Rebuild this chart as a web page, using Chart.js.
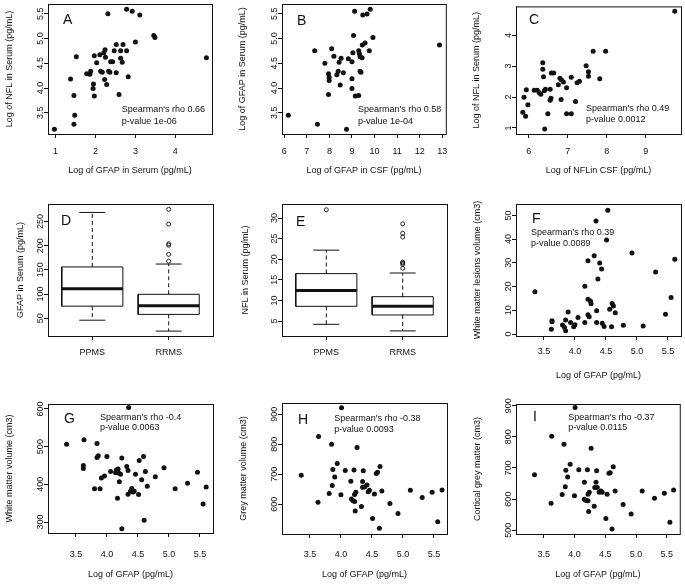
<!DOCTYPE html>
<html>
<head>
<meta charset="utf-8">
<script src="https://cdn.jsdelivr.net/npm/chart.js@4.4.1/dist/chart.umd.min.js"></script>
<style>
  html, body { margin: 0; background: #fff; }
  #fig { position: relative; width: 685px; height: 585px; overflow: hidden; }
  #fig canvas { position: absolute; }
</style>
</head>
<body>
<div id="fig">
  <canvas id="pA"></canvas><canvas id="pB"></canvas><canvas id="pC"></canvas>
  <canvas id="pD"></canvas><canvas id="pE"></canvas><canvas id="pF"></canvas>
  <canvas id="pG"></canvas><canvas id="pH"></canvas><canvas id="pI"></canvas>
</div>
<script>
// ---- data ----
const aX = [0.97, 1.375, 1.46, 1.48, 1.46, 1.52, 1.78, 1.86, 1.88, 1.94, 1.95, 1.97, 1.97, 2.03, 2.11, 2.13, 2.17, 2.21, 2.24, 2.25, 2.23, 2.28, 2.31, 2.33, 2.36, 2.38, 2.43, 2.47, 2.52, 2.52, 2.59, 2.63, 2.63, 2.67, 2.69, 2.78, 2.82, 2.78, 2.92, 3.11, 3.0, 3.46, 3.49, 4.78];
const aY = [3.17, 4.18, 3.85, 3.45, 3.27, 4.63, 4.29, 4.28, 4.34, 3.99, 4.08, 3.84, 4.65, 4.51, 4.67, 4.34, 4.32, 4.71, 4.77, 4.62, 4.17, 4.07, 5.5, 4.34, 4.32, 4.53, 4.53, 4.75, 4.88, 4.31, 3.87, 4.75, 4.6, 4.52, 4.88, 4.75, 4.23, 5.59, 5.55, 5.47, 4.93, 5.06, 5.02, 4.61];

const bX = [6.18, 7.47, 7.35, 7.8, 8.1, 7.96, 7.99, 7.99, 7.96, 8.2, 8.33, 8.39, 8.43, 8.48, 8.52, 8.62, 8.76, 8.84, 9.0, 9.0, 9.0, 9.04, 9.07, 9.12, 9.15, 9.3, 9.3, 9.33, 9.36, 9.36, 9.4, 9.45, 9.46, 9.48, 9.58, 9.67, 9.77, 9.81, 9.93, 12.88];
const bY = [3.45, 3.27, 4.75, 4.5, 4.79, 4.29, 4.22, 4.15, 3.87, 4.64, 4.27, 4.34, 4.52, 4.06, 4.6, 4.31, 3.17, 4.59, 4.53, 4.19, 3.99, 4.71, 5.06, 5.55, 3.84, 3.85, 4.75, 4.69, 4.63, 4.34, 4.32, 4.61, 4.87, 5.47, 4.91, 5.49, 4.75, 5.59, 5.02, 4.87];

const cX = [5.85, 5.88, 5.92, 5.94, 5.98, 6.14, 6.22, 6.27, 6.31, 6.36, 6.36, 6.38, 6.4, 6.41, 6.43, 6.49, 6.55, 6.55, 6.57, 6.58, 6.64, 6.76, 6.8, 6.83, 6.84, 6.89, 6.97, 6.97, 7.09, 7.09, 7.2, 7.24, 7.3, 7.47, 7.53, 7.53, 7.65, 7.82, 7.97, 9.74];
const cY = [1.51, 1.99, 1.38, 2.24, 1.75, 2.22, 2.22, 2.14, 2.09, 3.11, 2.9, 2.66, 2.2, 0.97, 2.25, 1.46, 1.9, 2.25, 1.96, 2.78, 2.78, 2.4, 2.61, 1.92, 2.55, 2.49, 2.3, 1.46, 1.46, 2.64, 1.86, 2.46, 2.51, 3.01, 2.82, 2.67, 3.48, 2.59, 3.48, 4.77];

const groups = ['PPMS', 'RRMS'];
// panel D: GFAP in serum
const dLow = [46, 23.5];
const dQ1 = [75, 58];
const dMed = [111, 76];
const dQ3 = [156, 99.5];
const dHigh = [268.6, 162];
const dOut = [[], [275, 244.5, 204, 201, 182, 168]];
// panel E: NFL in serum
const eLow = [4.2, 2.6];
const eQ1 = [8.56, 6.46];
const eMed = [12.4, 8.56];
const eQ3 = [16.5, 10.9];
const eHigh = [22.2, 16.65];
const eOut = [[32], [28.6, 26.3, 25.4, 19.3, 19.05, 18.8, 17.8]];

const fX = [3.355, 3.62, 3.63, 3.63, 3.8, 3.83, 3.85, 3.85, 3.89, 3.93, 3.98, 4.0, 4.05, 4.16, 4.16, 4.21, 4.21, 4.21, 4.23, 4.25, 4.26, 4.31, 4.34, 4.35, 4.35, 4.37, 4.4, 4.43, 4.44, 4.47, 4.51, 4.53, 4.56, 4.59, 4.6, 4.62, 4.65, 4.78, 4.92, 5.1, 5.3, 5.46, 5.55, 5.61];
const fY = [17.8, 2.0, 5.6, 5.2, 3.8, 2.8, 5.9, 1.4, 9.3, 4.8, 3.1, 3.9, 7.0, 4.9, 20.1, 30.9, 14.6, 8.1, 7.3, 13.9, 12.8, 33.0, 47.6, 4.9, 9.8, 23.2, 29.9, 27.4, 4.5, 3.2, 39.6, 52.2, 10.4, 3.1, 12.9, 11.8, 9.0, 3.65, 34.1, 3.4, 26.1, 8.3, 15.4, 31.5];

const gX = [3.35, 3.63, 3.62, 3.62, 3.8, 3.84, 3.84, 3.86, 3.91, 3.89, 3.96, 4.0, 4.06, 4.14, 4.17, 4.15, 4.18, 4.19, 4.2, 4.22, 4.24, 4.24, 4.32, 4.34, 4.34, 4.35, 4.38, 4.4, 4.42, 4.44, 4.46, 4.51, 4.52, 4.56, 4.59, 4.6, 4.62, 4.65, 4.78, 4.92, 5.1, 5.3, 5.46, 5.55, 5.6];
const gY = [506, 518, 450, 442, 388, 508, 471, 476, 417, 388, 422, 474, 434, 431, 363, 438, 441, 430, 407, 427, 470, 282, 447, 437, 374, 604, 382, 389, 380, 382, 427, 373, 463, 412, 474, 305, 434, 395, 420, 444, 388, 403, 432, 348, 393];

const hX = [3.36, 3.63, 3.64, 3.85, 3.81, 3.86, 3.87, 3.9, 3.94, 4.0, 4.01, 4.07, 4.16, 4.17, 4.19, 4.21, 4.22, 4.22, 4.23, 4.24, 4.26, 4.33, 4.35, 4.36, 4.35, 4.38, 4.42, 4.44, 4.46, 4.51, 4.54, 4.57, 4.59, 4.62, 4.63, 4.66, 4.79, 4.92, 5.12, 5.31, 5.47, 5.56, 5.63];
const hY = [697, 607, 826, 800, 636, 663, 716, 691, 736, 632, 922, 713, 677, 618, 613, 714, 633, 609, 578, 640, 789, 593, 676, 712, 657, 658, 664, 642, 647, 553, 634, 703, 707, 520, 726, 644, 603, 569, 647, 623, 640, 542, 648];

const iX = [3.35, 3.62, 3.63, 3.83, 3.8, 3.85, 3.86, 3.89, 3.93, 4.0, 4.01, 4.07, 4.16, 4.16, 4.18, 4.21, 4.22, 4.22, 4.23, 4.24, 4.27, 4.32, 4.35, 4.36, 4.33, 4.37, 4.4, 4.43, 4.45, 4.51, 4.53, 4.56, 4.58, 4.61, 4.63, 4.66, 4.79, 4.92, 5.1, 5.3, 5.46, 5.55, 5.61];
const iY = [678, 587, 802, 776, 615, 640, 693, 671, 712, 611, 894, 694, 654, 600, 596, 694, 616, 595, 560, 622, 763, 577, 654, 691, 637, 637, 622, 626, 622, 538, 616, 683, 685, 504, 704, 626, 583, 552, 626, 603, 619, 526, 629];

// tick values
const ticksA_x = [1, 2, 3, 4];
const ticksAB_y = [3.5, 4.0, 4.5, 5.0, 5.5];
const ticksB_x = [6, 7, 8, 9, 10, 11, 12, 13];
const ticksC_x = [6, 7, 8, 9];
const ticksC_y = [1, 2, 3, 4];
const ticksD_y = [50, 100, 150, 200, 250];
const ticksE_y = [5, 10, 15, 20, 25, 30];
const ticksGfap_x = [3.5, 4.0, 4.5, 5.0, 5.5];
const ticksF_y = [0, 10, 20, 30, 40, 50];
const ticksG_y = [300, 400, 500, 600];
const ticksH_y = [600, 700, 800, 900];
const ticksI_y = [500, 600, 700, 800, 900];

// ---- look ----
const Chart = window.Chart;
const FONT = "'Liberation Sans', Arial, Helvetica, sans-serif";
const FS = 9;
const LH = FS * 1.2;
const INK = '#111';
const TICK = 4;
const BOX_HALF = 0.4;
const CAP_HALF = 0.17;

Chart.defaults.font.family = FONT;
Chart.defaults.font.size = FS;
Chart.defaults.color = INK;
Chart.defaults.animation = false;
Chart.defaults.responsive = false;
Chart.defaults.events = [];
Chart.defaults.plugins.legend.display = false;
Chart.defaults.plugins.tooltip.enabled = false;

// page-pixel layout of each panel: canvas rect, plot box, text anchors
const P = {
  A: { x: 0, y: 0, w: 228, h: 185, box: [48, 3, 212, 134], yTitle: 10, xTick: 152, xTitle: 171 },
  B: { x: 228, y: 0, w: 228, h: 185, box: [282, 3, 447, 134], yTitle: 243, xTick: 152, xTitle: 171 },
  C: { x: 456, y: 0, w: 229, h: 185, box: [516, 3, 681, 134], yTitle: 477, xTick: 152, xTitle: 171 },
  D: { x: 0, y: 188, w: 228, h: 197, box: [48, 204, 213, 336], yTitle: 21, xTick: 353 },
  E: { x: 228, y: 188, w: 228, h: 197, box: [282, 204, 447, 336], yTitle: 246, xTick: 353 },
  F: { x: 456, y: 188, w: 229, h: 197, box: [516, 204, 681, 336], yTitle: 478, xTick: 352, xTitle: 376 },
  G: { x: 0, y: 385, w: 228, h: 200, box: [48, 404, 213, 533], yTitle: 10, xTick: 555, xTitle: 575 },
  H: { x: 228, y: 385, w: 228, h: 200, box: [282, 403, 447, 534], yTitle: 244, xTick: 555, xTitle: 575 },
  I: { x: 456, y: 385, w: 229, h: 200, box: [516, 404, 681, 534], yTitle: 478, xTick: 555, xTitle: 575 },
};

const measureCtx = document.createElement('canvas').getContext('2d');
function textW(s) {
  measureCtx.font = `${FS}px ${FONT}`;
  return measureCtx.measureText(s).width;
}
const fix1 = (v) => Number(v).toFixed(1);
const plain = (v) => String(v);

function axisX(p, min, max, ticks, fmt, title) {
  return {
    type: 'linear', position: 'bottom', min, max,
    afterBuildTicks: (s) => { s.ticks = ticks.map((v) => ({ value: v })); },
    afterFit: (s) => { s.height = p.y + p.h - p.box[3]; },
    grid: { drawOnChartArea: false, tickLength: TICK, tickColor: INK, tickWidth: 1 },
    border: { color: INK, width: 1 },
    ticks: { callback: (v) => fmt(v), maxRotation: 0, autoSkip: false, padding: p.xTick - p.box[3] - TICK - LH / 2 },
    title: title
      ? { display: true, text: title, color: INK, padding: { top: 0, bottom: p.y + p.h - p.xTitle - LH / 2 } }
      : { display: false },
  };
}

function axisY(p, min, max, ticks, fmt, title) {
  const half = Math.max(...ticks.map((v) => textW(fmt(v)))) / 2;
  return {
    type: 'linear', position: 'left', min, max,
    afterBuildTicks: (s) => { s.ticks = ticks.map((v) => ({ value: v })); },
    afterFit: (s) => { s.width = p.box[0] - p.x; },
    grid: { drawOnChartArea: false, tickLength: TICK, tickColor: INK, tickWidth: 1 },
    border: { color: INK, width: 1 },
    ticks: {
      callback: (v) => fmt(v), minRotation: 90, maxRotation: 90, autoSkip: false,
      crossAlign: 'center', padding: 7.5 - TICK - half,
    },
    title: { display: true, text: title, color: INK, padding: { top: p.yTitle - p.x - LH / 2, bottom: 0 } },
  };
}

// box around the plotting region, like R's box()
const frame = {
  id: 'frame',
  afterDraw(chart) {
    const { ctx, chartArea: a } = chart;
    ctx.save();
    ctx.strokeStyle = INK;
    ctx.lineWidth = 1;
    ctx.strokeRect(a.left + 0.5, a.top + 0.5, a.right - a.left, a.bottom - a.top);
    ctx.restore();
  },
};

// panel letter and Spearman notes, in page coordinates
const notes = {
  id: 'notes',
  afterDraw(chart, _args, opts) {
    const { ctx } = chart;
    ctx.save();
    ctx.fillStyle = INK;
    ctx.textAlign = 'left';
    ctx.textBaseline = 'middle';
    for (const t of opts.items || []) {
      ctx.font = `${t.size || FS}px ${FONT}`;
      ctx.fillText(t.text, t.x - opts.ox, t.y - opts.oy);
    }
    ctx.restore();
  },
};

function place(id, p) {
  const el = document.getElementById(id);
  el.width = p.w;
  el.height = p.h;
  el.style.left = p.x + 'px';
  el.style.top = p.y + 'px';
  return el;
}

function layoutFor(p) {
  return { padding: { left: 0, top: p.box[1] - p.y, right: p.x + p.w - p.box[2], bottom: 0 } };
}

function letter(ch, x, y) { return { text: ch, x, y, size: 14 }; }

function scatterPanel(key, xs, ys, sx, sy, items) {
  const p = P[key];
  const el = place('p' + key, p);
  return new Chart(el.getContext('2d'), {
    type: 'scatter',
    data: {
      datasets: [{
        data: xs.map((x, i) => ({ x, y: ys[i] })),
        pointRadius: 2.5,
        pointBackgroundColor: INK,
        pointBorderWidth: 0,
      }],
    },
    options: {
      layout: layoutFor(p),
      scales: {
        x: axisX(p, sx.min, sx.max, sx.ticks, sx.fmt, sx.title),
        y: axisY(p, sy.min, sy.max, sy.ticks, sy.fmt, sy.title),
      },
      plugins: { notes: { items, ox: p.x, oy: p.y } },
    },
    plugins: [frame, notes],
  });
}

function seg(points, width, dash) {
  return {
    type: 'scatter',
    data: points.map(([x, y]) => ({ x, y })),
    showLine: true,
    borderColor: INK,
    borderWidth: width,
    borderDash: dash || [],
    borderCapStyle: 'butt',
    pointRadius: 0,
  };
}

function boxPanel(key, low, q1, med, q3, high, outs, sy, items) {
  const p = P[key];
  const el = place('p' + key, p);
  const datasets = [];
  groups.forEach((g, i) => {
    const c = i + 1;
    const l = c - BOX_HALF, r = c + BOX_HALF;
    datasets.push(seg([[c, q3[i]], [c, high[i]]], 1, [4, 3]));
    datasets.push(seg([[c, q1[i]], [c, low[i]]], 1, [4, 3]));
    datasets.push(seg([[c - CAP_HALF, high[i]], [c + CAP_HALF, high[i]]], 1));
    datasets.push(seg([[c - CAP_HALF, low[i]], [c + CAP_HALF, low[i]]], 1));
    datasets.push(seg([[l, q1[i]], [r, q1[i]], [r, q3[i]], [l, q3[i]], [l, q1[i]]], 1));
    datasets.push(seg([[l, med[i]], [r, med[i]]], 3));
    datasets.push({
      type: 'scatter',
      data: outs[i].map((v) => ({ x: c, y: v })),
      pointRadius: 2,
      pointBorderWidth: 0.9,
      pointBorderColor: INK,
      pointBackgroundColor: 'rgba(255,255,255,0)',
    });
  });
  return new Chart(el.getContext('2d'), {
    type: 'scatter',
    data: { datasets },
    options: {
      layout: layoutFor(p),
      scales: {
        x: axisX(p, 0.42, 2.58, [1, 2], (v) => groups[Math.round(v) - 1], null),
        y: axisY(p, sy.min, sy.max, sy.ticks, sy.fmt, sy.title),
      },
      plugins: { notes: { items, ox: p.x, oy: p.y } },
    },
    plugins: [frame, notes],
  });
}

const gfapX = { min: 3.05, max: 5.71, ticks: ticksGfap_x, fmt: fix1, title: 'Log of GFAP (pg/mL)' };

scatterPanel('A', aX, aY,
  { min: 0.81, max: 4.92, ticks: ticksA_x, fmt: plain, title: 'Log of GFAP in Serum (pg/mL)' },
  { min: 3.074, max: 5.694, ticks: ticksAB_y, fmt: fix1, title: 'Log of NFL in Serum (pg/mL)' },
  [letter('A', 63, 20), { text: "Spearman's rho 0.66", x: 121.7, y: 110 }, { text: 'p-value 1e-06', x: 121.7, y: 121.7 }]);

scatterPanel('B', bX, bY,
  { min: 5.9, max: 13.16, ticks: ticksB_x, fmt: plain, title: 'Log of GFAP in CSF (pg/mL)' },
  { min: 3.074, max: 5.694, ticks: ticksAB_y, fmt: fix1, title: 'Log of GFAP in Serum (pg/mL)' },
  [letter('B', 297, 20.7), { text: "Spearman's rho 0.58", x: 358, y: 110 }, { text: 'p-value 1e-04', x: 358, y: 122 }]);

scatterPanel('C', cX, cY,
  { min: 5.675, max: 9.9, ticks: ticksC_x, fmt: plain, title: 'Log of NFLin CSF (pg/mL)' },
  { min: 0.806, max: 4.93, ticks: ticksC_y, fmt: plain, title: 'Log of NFL in Serum (pg/mL)' },
  [letter('C', 529, 20), { text: "Spearman's rho 0.49", x: 586, y: 108.3 }, { text: 'p-value 0.0012', x: 586, y: 119.5 }]);

boxPanel('D', dLow, dQ1, dMed, dQ3, dHigh, dOut,
  { min: 13.4, max: 286, ticks: ticksD_y, fmt: plain, title: 'GFAP in Serum (pg/mL)' },
  [letter('D', 61, 221)]);

boxPanel('E', eLow, eQ1, eMed, eQ3, eHigh, eOut,
  { min: 1.36, max: 33.4, ticks: ticksE_y, fmt: plain, title: 'NFL in Serum (pg/mL)' },
  [letter('E', 296, 221.7)]);

scatterPanel('F', fX, fY, gfapX,
  { min: -0.84, max: 54.8, ticks: ticksF_y, fmt: plain, title: 'White matter lesions volume (cm3)' },
  [letter('F', 532, 219), { text: "Spearman's rho 0.39", x: 531, y: 232.7 }, { text: 'p-value 0.0089', x: 531, y: 243.3 }]);

scatterPanel('G', gX, gY, gfapX,
  { min: 271, max: 613, ticks: ticksG_y, fmt: plain, title: 'White matter volume (cm3)' },
  [letter('G', 64, 419), { text: "Spearman's rho -0.4", x: 100, y: 417.3 }, { text: 'p-value 0.0063', x: 100, y: 428 }]);

scatterPanel('H', hX, hY, gfapX,
  { min: 501, max: 937.7, ticks: ticksH_y, fmt: plain, title: 'Grey matter volume (cm3)' },
  [letter('H', 298, 420), { text: "Spearman's rho -0.38", x: 334.3, y: 418.3 }, { text: 'p-value 0.0093', x: 334.3, y: 429.3 }]);

scatterPanel('I', iX, iY, gfapX,
  { min: 488, max: 905.5, ticks: ticksI_y, fmt: plain, title: 'Cortical grey matter (cm3)' },
  [letter('I', 533, 417), { text: "Spearman's rho -0.37", x: 568.3, y: 417.3 }, { text: 'p-value 0.0115', x: 568.3, y: 428 }]);
</script>
</body>
</html>
